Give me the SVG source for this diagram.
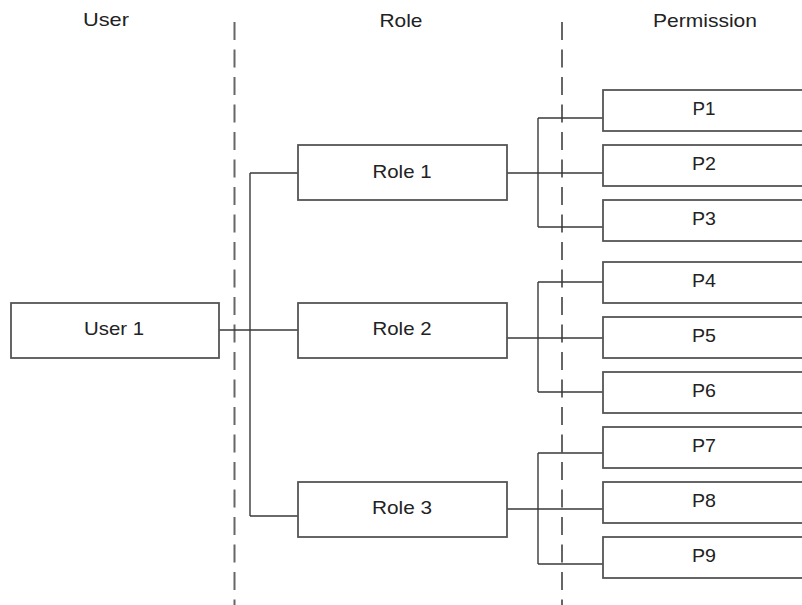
<svg xmlns="http://www.w3.org/2000/svg" width="802" height="605" viewBox="0 0 802 605">
<style>
.box{fill:#fff;stroke:#555;stroke-width:1.8}
.lbl{font-family:"Liberation Sans",Arial,sans-serif;font-size:19px;fill:#222;text-anchor:middle}
.con{fill:none;stroke:#3a3a3a;stroke-width:1.4}
.lane{stroke:#666;stroke-width:2;stroke-dasharray:18 9.5}
</style>
<rect width="802" height="605" fill="#fff"/>
<g id="lanes">
<line class="lane" x1="234.5" y1="22" x2="234.5" y2="605"/>
<line class="lane" x1="562" y1="22" x2="562" y2="605"/>
<text class="lbl" x="106" y="26" textLength="46" lengthAdjust="spacingAndGlyphs">User</text>
<text class="lbl" x="401" y="27" textLength="43" lengthAdjust="spacingAndGlyphs">Role</text>
<text class="lbl" x="705" y="27" textLength="104" lengthAdjust="spacingAndGlyphs">Permission</text>
</g>
<g id="connectors">
<path class="con" d="M219 330H298M250 173V516M250 173H298M250 516H298"/>
<path class="con" d="M507 173H603M538 118V227M538 118H603M538 227H603"/>
<path class="con" d="M507 338H603M538 282V392M538 282H603M538 392H603"/>
<path class="con" d="M507 509H603M538 453V564M538 453H603M538 564H603"/>
</g>
<g id="user1"><rect class="box" x="11" y="303" width="208" height="55"/><text class="lbl" x="114" y="335" textLength="60" lengthAdjust="spacingAndGlyphs">User 1</text></g>
<g id="role1"><rect class="box" x="298" y="145" width="209" height="55"/><text class="lbl" x="402" y="178" textLength="59" lengthAdjust="spacingAndGlyphs">Role 1</text></g>
<g id="role2"><rect class="box" x="298" y="303" width="209" height="55"/><text class="lbl" x="402" y="335" textLength="59" lengthAdjust="spacingAndGlyphs">Role 2</text></g>
<g id="role3"><rect class="box" x="298" y="482" width="209" height="55"/><text class="lbl" x="402" y="514" textLength="60" lengthAdjust="spacingAndGlyphs">Role 3</text></g>
<g id="p1"><rect class="box" x="603" y="90" width="220" height="41"/><text class="lbl" x="704" y="115" textLength="23" lengthAdjust="spacingAndGlyphs">P1</text></g>
<g id="p2"><rect class="box" x="603" y="145" width="220" height="41"/><text class="lbl" x="704" y="170" textLength="24" lengthAdjust="spacingAndGlyphs">P2</text></g>
<g id="p3"><rect class="box" x="603" y="200" width="220" height="41"/><text class="lbl" x="704" y="225" textLength="24" lengthAdjust="spacingAndGlyphs">P3</text></g>
<g id="p4"><rect class="box" x="603" y="262" width="220" height="41"/><text class="lbl" x="704" y="287" textLength="24" lengthAdjust="spacingAndGlyphs">P4</text></g>
<g id="p5"><rect class="box" x="603" y="317" width="220" height="41"/><text class="lbl" x="704" y="342" textLength="24" lengthAdjust="spacingAndGlyphs">P5</text></g>
<g id="p6"><rect class="box" x="603" y="372" width="220" height="41"/><text class="lbl" x="704" y="397" textLength="24" lengthAdjust="spacingAndGlyphs">P6</text></g>
<g id="p7"><rect class="box" x="603" y="427" width="220" height="41"/><text class="lbl" x="704" y="452" textLength="24" lengthAdjust="spacingAndGlyphs">P7</text></g>
<g id="p8"><rect class="box" x="603" y="482" width="220" height="41"/><text class="lbl" x="704" y="507" textLength="24" lengthAdjust="spacingAndGlyphs">P8</text></g>
<g id="p9"><rect class="box" x="603" y="537" width="220" height="41"/><text class="lbl" x="704" y="562" textLength="24" lengthAdjust="spacingAndGlyphs">P9</text></g>
</svg>
